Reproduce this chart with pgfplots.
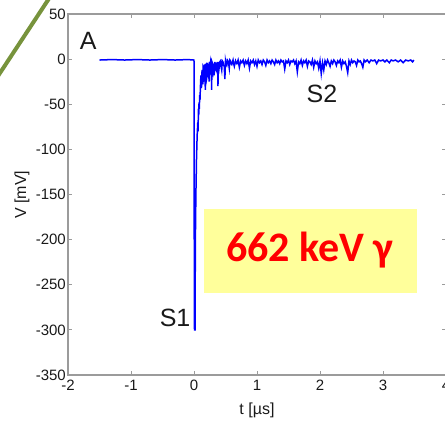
\documentclass[border=0pt]{standalone}
\usepackage{pgfplots}
\pgfplotsset{compat=1.18}
\usepackage{fontspec}
\setmainfont{Liberation Sans}
\newfontfamily\carlito{Carlito}
\definecolor{axgray}{RGB}{155,155,155}
\definecolor{olivegreen}{RGB}{119,147,60}
\definecolor{lightyel}{RGB}{255,255,155}
\begin{document}
\begin{tikzpicture}[x=1pt,y=1pt]
\draw[line width=4pt, olivegreen] (-5,340.4) -- (55,431.6);
\begin{axis}[
  at={(68pt,46pt)}, anchor=south west,
  scale only axis, width=378pt, height=361pt,
  xmin=-2, xmax=4, ymin=-350, ymax=50,
  xtick={-2,-1,0,1,2,3,4},
  xticklabels={-2,-1,0,1,2,3,4},
  ytick={-350,-300,-250,-200,-150,-100,-50,0,50},
  yticklabels={-350,-300,-250,-200,-150,-100,-50,0,50},
  tick align=inside, major tick length=4pt,
  tick style={axgray, line width=0.8pt},
  axis line style={axgray, line width=1.4pt},
  ticklabel style={font=\fontsize{15}{17}\selectfont, text=black!90},
  yticklabel style={inner sep=1pt, xshift=-1pt},
  xticklabel style={inner sep=1pt, yshift=-4pt},
  xlabel={t [\textmu s]}, ylabel={V [mV]},
  label style={font=\fontsize{16}{18}\selectfont, text=black!90},
  xlabel style={at={(axis description cs:0.5,-0.097)}, anchor=center},
  ylabel style={at={(axis description cs:-0.122,0.499)}, anchor=center},
  clip=false,
]
\fill[lightyel] (axis cs:0.16,-165.6) rectangle (axis cs:3.54,-259);
\node[text=red, font=\carlito\bfseries\fontsize{42}{44}\selectfont] at (axis cs:1.84,-212) {662 keV γ};
\node[font=\fontsize{25}{27}\selectfont, text=black!90] at (axis cs:-1.68,20) {A};
\node[font=\fontsize{25}{27}\selectfont, text=black!90] at (axis cs:-0.30,-287) {S1};
\node[font=\fontsize{25}{27}\selectfont, text=black!90] at (axis cs:2.03,-38) {S2};
\addplot[blue, line width=1.5pt, mark=none] coordinates {
(-1.5,-1) (-1.3,-0.5) (-1.1,-1) (-0.9,-0.5) (-0.7,-1) (-0.5,-0.5) (-0.3,-1) (-0.1,-0.5) (0.0,-1)
(0.004,-200) (0.008,-300) (0.016,-300) (0.022,-200) (0.03,-150) (0.04,-110) (0.05,-85) (0.06,-70) (0.065,-80) (0.07,-55) (0.075,-62) (0.08,-48) (0.085,-55) (0.09,-40) (0.095,-45)
(0.10,-35) (0.105,-25) (0.11,-18) (0.115,-32) (0.12,-30) (0.125,-15) (0.13,-12) (0.135,-26) (0.14,-28) (0.145,-9) (0.15,-10) (0.155,-22) (0.16,-25) (0.165,-6) (0.17,-8) (0.175,-20) (0.18,-34) (0.185,-5) (0.19,-12)
(0.195,-24) (0.20,-22) (0.205,-4) (0.21,-6) (0.215,-20) (0.22,-18) (0.225,-5) (0.23,-8) (0.235,-16) (0.24,-25) (0.245,-3) (0.25,-5) (0.255,-14) (0.26,-15) (0.265,-4) (0.27,-6) (0.275,-12) (0.28,-34) (0.285,-3) (0.29,-4)
(0.295,-12) (0.30,-14) (0.31,-5) (0.315,-11) (0.32,-18) (0.33,-3) (0.335,-9) (0.34,-10) (0.35,-4) (0.355,-12) (0.36,-13) (0.37,-3) (0.375,-8) (0.38,-30) (0.39,-3)
(0.40,-9) (0.41,-3) (0.42,-2) (0.43,-8) (0.44,-12) (0.45,-2) (0.46,-3) (0.47,-7) (0.48,-8) (0.49,-22) (0.50,-2) (0.51,-6) (0.52,-7) (0.53,-1) (0.54,-2) (0.55,-5) (0.56,-10)
(0.57,-1) (0.58,-2) (0.59,-5) (0.60,-6) (0.62,-1) (0.63,-5) (0.64,-8) (0.66,-2) (0.67,-4) (0.68,-5) (0.70,-1) (0.72,-9) (0.74,-2) (0.76,-4)
(0.78,-1) (0.80,-7) (0.82,-2) (0.84,-5) (0.86,-1) (0.88,-10) (0.90,-2) (0.92,-4) (0.94,-1) (0.96,-6)
(0.98,-2) (1.00,-8) (1.02,-1) (1.04,-4) (1.06,-2) (1.08,-6) (1.10,-1) (1.12,-3) (1.14,-7) (1.16,-1)
(1.18,-4) (1.20,-2) (1.22,-5) (1.24,-1) (1.26,-3) (1.28,-6) (1.30,-1) (1.32,-4) (1.34,-2) (1.36,-5)
(1.38,-1) (1.40,-3) (1.42,-2) (1.44,-11) (1.46,-2) (1.48,-4) (1.50,-1) (1.52,-6) (1.54,-2) (1.56,-3)
(1.58,-1) (1.60,-5) (1.62,-2) (1.64,-14) (1.66,-3) (1.68,-5) (1.70,-1) (1.72,-7) (1.74,-2) (1.76,-4)
(1.78,-1) (1.80,-8) (1.82,-2) (1.84,-3) (1.86,-6) (1.88,-1) (1.90,-9) (1.92,-2) (1.94,-5) (1.96,-3)
(1.98,-10) (2.00,-2) (2.02,-16) (2.04,-4) (2.06,-12) (2.08,-2) (2.10,-6) (2.12,-1) (2.14,-4) (2.16,-8)
(2.18,-2) (2.20,-5) (2.22,-1) (2.24,-3) (2.26,-7) (2.28,-2) (2.30,-4) (2.32,-1) (2.34,-9) (2.36,-2)
(2.38,-5) (2.40,-3) (2.42,-8) (2.44,-15) (2.46,-2) (2.48,-6) (2.50,-1) (2.52,-4) (2.54,-2) (2.56,-3)
(2.58,-7) (2.60,-1) (2.62,-3) (2.64,-2) (2.66,-5) (2.68,-9) (2.70,-1) (2.72,-3) (2.75,-1) (2.78,-4)
(2.81,-1) (2.84,-2) (2.87,-1) (2.90,-5) (2.93,-1) (2.96,-2) (3.00,-1) (3.03,-3) (3.06,-1) (3.10,-4)
(3.13,-1) (3.16,-2) (3.20,-1) (3.24,-3) (3.28,-1) (3.32,-4) (3.36,-1) (3.40,-2) (3.44,-1) (3.47,-3) (3.49,-1)
};
\end{axis}
\pgfresetboundingbox
\path (0,0) rectangle (445,421);
\end{tikzpicture}
\end{document}
